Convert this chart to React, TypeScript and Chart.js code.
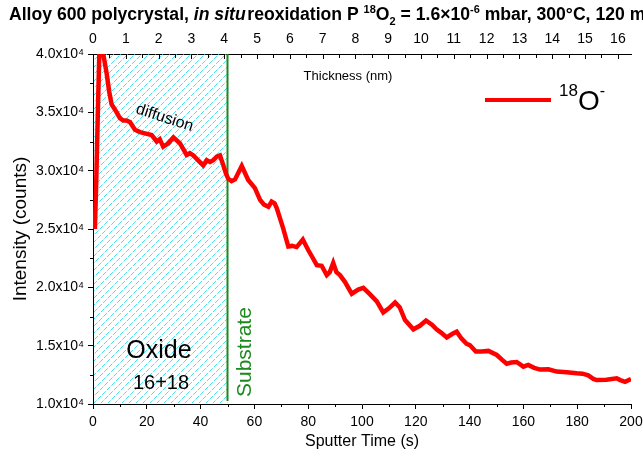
import React, { useEffect, useRef } from 'react';
import { Chart, registerables } from 'chart.js';
Chart.register(...registerables);

const FONT = "'Liberation Sans', Arial, sans-serif";

// Sputter time (s)
const timeS = [
  0.7, 1.2, 1.8, 2.4, 3.3, 4.2, 5.1, 6.0, 6.9, 8.8, 10.0, 11.3, 12.5, 13.8, 15.6, 17.5, 19.3, 21.8, 23.7, 24.8,
  26.1, 28.0, 29.9, 32.3, 34.8, 36.0, 37.3, 39.0, 41.0, 42.3, 43.5, 44.7, 46.0, 47.2, 48.4, 49.5, 50.3, 51.5, 52.8, 55.3,
  57.7, 60.2, 62.1, 63.5, 65.2, 66.4, 67.5, 68.3, 70.7, 72.6, 74.0, 75.7, 78.0, 80.0, 81.5, 83.2, 85.0, 86.9, 88.0, 89.3,
  90.5, 91.8, 93.7, 96.2, 98.6, 100.5, 103.0, 105.5, 107.9, 110.0, 112.3, 114.0, 116.0, 119.1, 121.5, 123.8, 126.0, 127.7, 129.5, 131.5,
  133.5, 135.2, 137.0, 138.9, 140.1, 142.3, 144.5, 147.0, 150.1, 152.0, 153.8, 155.5, 157.5, 160.0, 161.8, 164.0, 166.2, 169.3, 172.4, 176.1,
  179.8, 182.0, 184.1, 186.0, 187.2, 190.9, 194.7, 196.0, 197.8, 200.0,
];
// 18O- intensity (counts)
const counts18O = [
  25000, 29000, 35000, 40500, 40600, 39500, 38300, 36800, 35700, 35000, 34500, 34300, 34300, 34150, 33500, 33300, 33200, 33050, 32500, 32700,
  32050, 32350, 32850, 32350, 31350, 31500, 31300, 30900, 30450, 30900, 30750, 30900, 31200, 31300, 30500, 29700, 29300, 29100, 29250, 30400,
  29200, 28500, 27500, 27100, 26900, 27350, 27200, 26800, 25050, 23500, 23550, 23450, 24100, 23200, 22600, 21900, 21850, 21050, 21300, 22100,
  21300, 21050, 20450, 19450, 19800, 19950, 19400, 18800, 17850, 18200, 18700, 18300, 17200, 16400, 16700, 17150, 16800, 16400, 16100, 15700,
  16000, 16200, 15600, 15150, 15050, 14500, 14500, 14550, 14200, 13800, 13450, 13550, 13600, 13200, 13350, 13100, 12950, 12980, 12780, 12720,
  12630, 12600, 12450, 12150, 12050, 12080, 12200, 12050, 11900, 12150,
];

// top axis tick values (thickness, nm)
const thicknessTicks = [0, 1, 2, 3, 4, 5, 6, 7, 8, 9, 10, 11, 12, 13, 14, 15, 16];

const X_MIN = 0;
const X_MAX = 200;
const Y_MIN = 10000;
const Y_MAX = 40000;
const THICK_MAX = 16.4; // nm at 200 s
const OXIDE_END = 50; // s

const seriesLabel = '18O-';

type Part = [string, string, number?];
function drawRich(ctx: CanvasRenderingContext2D, x: number, y: number, parts: Part[]) {
  let cx = x;
  for (const [t, f, dy] of parts) {
    ctx.font = f;
    ctx.fillText(t, cx, y + (dy || 0));
    cx += ctx.measureText(t).width;
  }
  return cx;
}

const noPad = (s: any) => {
  s.paddingLeft = 0;
  s.paddingRight = 0;
  s.paddingTop = 0;
  s.paddingBottom = 0;
};

const decorPlugin = {
  id: 'decor',
  beforeDatasetsDraw(chart: any) {
    const { ctx, chartArea: a, scales } = chart;
    const xs = scales.x;
    const x0 = xs.getPixelForValue(0);
    const x1 = xs.getPixelForValue(OXIDE_END);
    const h = a.bottom - a.top;
    ctx.save();
    ctx.beginPath();
    ctx.rect(x0 + 1, a.top, x1 - x0 - 1, h - 1);
    ctx.clip();
    ctx.strokeStyle = '#45e0f0';
    ctx.lineWidth = 1;
    ctx.setLineDash([5, 1.5]);
    for (let k = x0 - h; k < x1 + 2; k += 7) {
      ctx.beginPath();
      ctx.moveTo(k, a.bottom);
      ctx.lineTo(k + h, a.top);
      ctx.stroke();
    }
    ctx.restore();
    ctx.save();
    ctx.strokeStyle = '#1d8a1d';
    ctx.lineWidth = 2;
    ctx.beginPath();
    ctx.moveTo(x1, a.top);
    ctx.lineTo(x1, a.bottom - 3);
    ctx.stroke();
    ctx.restore();
  },
  afterDraw(chart: any) {
    const { ctx, chartArea: a, scales } = chart;
    const xs = scales.x;
    const xt = scales.xTop;
    const ys = scales.y;
    ctx.save();
    ctx.strokeStyle = '#000';
    ctx.lineWidth = 1;
    // minor ticks bottom
    for (let v = X_MIN + 10; v < X_MAX; v += 20) {
      const p = Math.round(xs.getPixelForValue(v)) + 0.5;
      ctx.beginPath(); ctx.moveTo(p, a.bottom); ctx.lineTo(p, a.bottom + 3); ctx.stroke();
    }
    // minor ticks left
    for (let v = Y_MIN + 2500; v < Y_MAX; v += 5000) {
      const p = Math.round(ys.getPixelForValue(v)) + 0.5;
      ctx.beginPath(); ctx.moveTo(a.left, p); ctx.lineTo(a.left - 3, p); ctx.stroke();
    }
    // top ticks (inside)
    for (let v = 0; v <= THICK_MAX + 0.01; v += 0.5) {
      const p = Math.round(xt.getPixelForValue(v)) + 0.5;
      const len = Number.isInteger(v) ? 5 : 4;
      ctx.beginPath(); ctx.moveTo(p, a.top); ctx.lineTo(p, a.top + len); ctx.stroke();
    }
    ctx.restore();

    ctx.save();
    ctx.fillStyle = '#000';
    ctx.textBaseline = 'alphabetic';
    // Title
    const B = (s: number) => `bold ${s}px ${FONT}`;
    const BI = (s: number) => `italic bold ${s}px ${FONT}`;
    drawRich(ctx, 9, 20, [
      ['Alloy 600 polycrystal, ', B(17.6)],
      ['in situ', BI(17.6)],
      [' ', B(6)],
      ['reoxidation P ', B(17.6)],
      ['18', B(11), -7],
      ['O', B(17.6)],
      ['2', B(11), 5],
      [' = 1.6\u00d710', B(17.6)],
      ['-6', B(11), -7],
      [' mbar, 300\u00b0C, 120 min', B(17.6)],
    ]);
    // Thickness label inside plot
    ctx.textAlign = 'center';
    ctx.font = `13px ${FONT}`;
    ctx.fillText('Thickness (nm)', 348, 80);
    // Oxide labels
    ctx.font = `25px ${FONT}`;
    ctx.fillText('Oxide', 159, 358);
    ctx.font = `20px ${FONT}`;
    ctx.fillText('16+18', 161, 389);
    // diffusion (rotated)
    ctx.textAlign = 'left';
    ctx.save();
    ctx.translate(135, 113);
    ctx.rotate((18 * Math.PI) / 180);
    ctx.font = `16px ${FONT}`;
    ctx.fillText('diffusion', 0, 0);
    ctx.restore();
    // Substrate (vertical)
    ctx.save();
    ctx.translate(xs.getPixelForValue(OXIDE_END) + 23, 397);
    ctx.rotate(-Math.PI / 2);
    ctx.fillStyle = '#1d8a1d';
    ctx.font = `21px ${FONT}`;
    ctx.fillText('Substrate', 0, 0);
    ctx.restore();
    // Legend
    ctx.strokeStyle = '#ff0000';
    ctx.lineWidth = 4;
    ctx.beginPath(); ctx.moveTo(485, 100); ctx.lineTo(551, 100); ctx.stroke();
    const N = (s: number) => `${s}px ${FONT}`;
    drawRich(ctx, 559, 110, [
      [seriesLabel.slice(0, 2), N(17), -14],
      [seriesLabel.slice(2, 3), N(28)],
      [seriesLabel.slice(3), N(16), -14],
    ]);
    ctx.restore();
  },
};

export default function App() {
  const ref = useRef<HTMLCanvasElement | null>(null);
  useEffect(() => {
    if (!ref.current) return;
    const points = timeS.map((t, i) => ({ x: t, y: counts18O[i] }));
    const tickFont = { family: FONT, size: 14 };
    const chart = new Chart(ref.current, {
      type: 'line',
      data: {
        datasets: [
          {
            label: seriesLabel,
            data: points,
            borderColor: '#ff0000',
            borderWidth: 4.5,
            pointRadius: 0,
            tension: 0,
            fill: false,
          },
        ],
      },
      plugins: [decorPlugin],
      options: {
        animation: false,
        responsive: false,
        devicePixelRatio: 1,
        layout: { autoPadding: false, padding: { left: 0, right: 12, top: 0, bottom: 0 } },
        plugins: { legend: { display: false }, tooltip: { enabled: false }, title: { display: false } },
        scales: {
          x: {
            type: 'linear',
            position: 'bottom',
            min: X_MIN,
            max: X_MAX,
            afterFit: (s: any) => { s.height = 57; noPad(s); },
            ticks: { stepSize: 20, color: '#000', font: tickFont, padding: 5, maxRotation: 0 },
            grid: { display: true, drawOnChartArea: false, drawTicks: true, tickLength: 5, color: '#000' },
            border: { display: true, color: '#000', width: 1 },
            title: { display: true, text: 'Sputter Time (s)', color: '#000', font: { family: FONT, size: 16 }, padding: { top: 0, bottom: 10 } },
          },
          xTop: {
            type: 'linear',
            axis: 'x',
            position: 'top',
            min: 0,
            max: THICK_MAX,
            afterFit: (s: any) => { s.height = 54; noPad(s); },
            afterBuildTicks: (s: any) => { s.ticks = thicknessTicks.map((v) => ({ value: v })); },
            ticks: {
              color: '#000',
              font: tickFont,
              padding: 6,
              maxRotation: 0,
              autoSkip: false,
            },
            grid: { display: false, drawTicks: false },
            border: { display: true, color: '#000', width: 1 },
          },
          y: {
            type: 'linear',
            position: 'left',
            min: Y_MIN,
            max: Y_MAX,
            afterFit: (s: any) => { s.width = 93; noPad(s); },
            ticks: {
              stepSize: 5000,
              color: '#000',
              font: { family: FONT, size: 14 },
              padding: 4,
              callback: (v: any) => `${(Number(v) / 10000).toFixed(1)}x10\u2074`,
            },
            grid: { display: true, drawOnChartArea: false, drawTicks: true, tickLength: 5, color: '#000' },
            border: { display: true, color: '#000', width: 1 },
            title: { display: true, text: 'Intensity (counts)', color: '#000', font: { family: FONT, size: 19 }, padding: { top: 9, bottom: 0 } },
          },
        },
      } as any,
    });
    return () => chart.destroy();
  }, []);
  return (
    <div style={{ position: 'absolute', left: 0, top: 0, width: 643, height: 461, background: '#fff' }}>
      <canvas ref={ref} width={643} height={461} style={{ width: 643, height: 461, display: 'block' }} />
    </div>
  );
}
